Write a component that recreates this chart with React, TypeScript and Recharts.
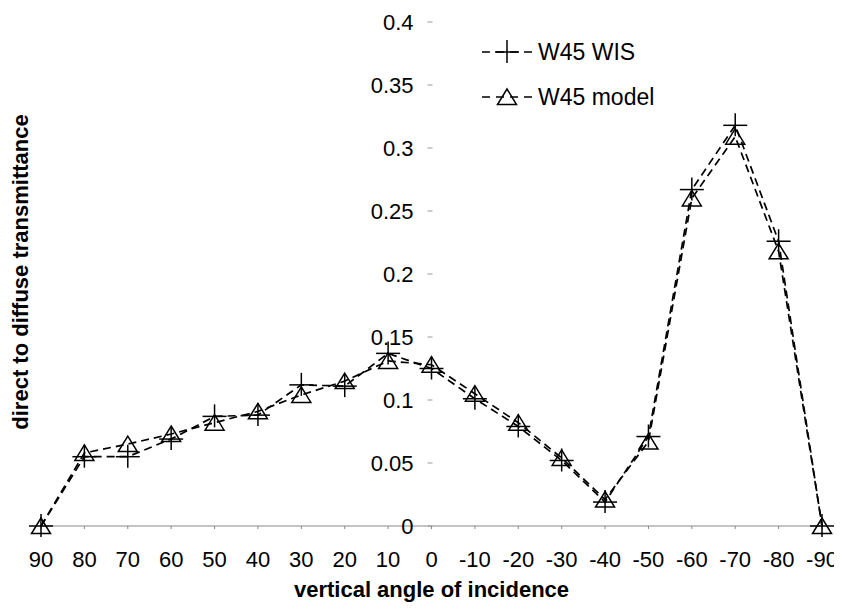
import { LineChart, Line, XAxis, YAxis, Legend } from 'recharts';

const angles = ['90', '80', '70', '60', '50', '40', '30', '20', '10', '0', '-10', '-20', '-30', '-40', '-50', '-60', '-70', '-80', '-90'];
const wisValues = [0, 0.055, 0.055, 0.069, 0.087, 0.088, 0.112, 0.111, 0.137, 0.125, 0.101, 0.079, 0.052, 0.019, 0.071, 0.267, 0.318, 0.226, 0];
const modelValues = [0, 0.058, 0.065, 0.073, 0.082, 0.091, 0.104, 0.115, 0.131, 0.128, 0.105, 0.082, 0.054, 0.021, 0.067, 0.26, 0.309, 0.218, 0];
const yTicks = [0, 0.05, 0.1, 0.15, 0.2, 0.25, 0.3, 0.35, 0.4];

const data = angles.map((angle, i) => ({ angle, wis: wisValues[i], model: modelValues[i] }));

const WIDTH = 834;
const HEIGHT = 595;
const MARGIN = { top: 14, right: 20, left: 32, bottom: 0 };
const Y_AXIS_W = 1;
const FONT = '"Liberation Sans", Arial, Helvetica, sans-serif';

// the value axis sits on the 0 degree column, not at the plot edge
const PLOT_W = WIDTH - MARGIN.left - Y_AXIS_W - MARGIN.right;
const AXIS_SHIFT = (PLOT_W / (angles.length - 1)) * angles.indexOf('0');

const PlusDot = ({ cx, cy }: any) => (
  <g stroke="#000" strokeWidth={1.5}>
    <line x1={cx - 12} x2={cx + 12} y1={cy} y2={cy} />
    <line x1={cx} x2={cx} y1={cy - 12} y2={cy + 11} />
  </g>
);

const TriangleDot = ({ cx, cy }: any) => (
  <polygon
    points={`${cx},${cy - 8} ${cx - 9.5},${cy + 7.5} ${cx + 9.5},${cy + 7.5}`}
    fill="none"
    stroke="#000"
    strokeWidth={1.5}
  />
);

const YTick = ({ x, y, payload }: any) => {
  const ax = x + Y_AXIS_W + AXIS_SHIFT;
  return (
    <g>
      <line x1={ax - 5} x2={ax} y1={y} y2={y} stroke="#999" />
      <text x={ax - 19} y={y} textAnchor="end" dominantBaseline="central" fontSize={22} fill="#000" fontFamily={FONT}>
        {payload.value}
      </text>
    </g>
  );
};

const YTitle = ({ viewBox }: any) => {
  const cx = 12;
  const cy = viewBox.y + viewBox.height / 2 - 2;
  return (
    <text
      x={cx}
      y={cy}
      transform={`rotate(-90 ${cx} ${cy})`}
      textAnchor="middle"
      dominantBaseline="central"
      fontSize={22}
      fontWeight="bold"
      fontFamily={FONT}
      fill="#000"
    >
      direct to diffuse transmittance
    </text>
  );
};

const LegendBox = ({ payload }: any) => (
  <svg width={240} height={80} style={{ display: 'block' }}>
    {(payload || []).map((entry: any, i: number) => {
      const y = 14 + i * 45;
      return (
        <g key={entry.value}>
          <line x1={0} x2={52} y1={y} y2={y} stroke="#000" strokeWidth={1.5} strokeDasharray="8 6" />
          {entry.dataKey === 'wis' ? <PlusDot cx={25} cy={y} /> : <TriangleDot cx={25} cy={y} />}
          <text x={56} y={y} dominantBaseline="central" fontSize={23} fontFamily={FONT} fill="#000">
            {entry.value}
          </text>
        </g>
      );
    })}
  </svg>
);

export default function App() {
  return (
    <LineChart width={WIDTH} height={HEIGHT} data={data} margin={MARGIN} style={{ fontFamily: FONT }}>
      <XAxis
        dataKey="angle"
        height={77}
        interval={0}
        tickSize={3}
        tickMargin={22}
        axisLine={{ stroke: '#888' }}
        tickLine={{ stroke: '#888' }}
        tick={{ fill: '#000', fontSize: 22, fontFamily: FONT }}
        label={{
          value: 'vertical angle of incidence',
          position: 'insideBottom',
          offset: 6,
          fontSize: 22,
          fontWeight: 'bold',
          fill: '#000',
          fontFamily: FONT,
        }}
      />
      <YAxis
        domain={[0, 0.4]}
        ticks={yTicks}
        interval={0}
        width={Y_AXIS_W}
        tickSize={0}
        tickMargin={0}
        axisLine={false}
        tickLine={false}
        tick={<YTick />}
        label={{ content: <YTitle /> }}
      />
      <Legend
        layout="vertical"
        align="center"
        verticalAlign="middle"
        wrapperStyle={{ left: 474, top: 30, width: 240 }}
        content={<LegendBox />}
      />
      <Line
        dataKey="wis"
        name="W45 WIS"
        stroke="#000"
        strokeWidth={1.7}
        strokeDasharray="8 5"
        dot={<PlusDot />}
        activeDot={false}
        isAnimationActive={false}
      />
      <Line
        dataKey="model"
        name="W45 model"
        stroke="#000"
        strokeWidth={1.7}
        strokeDasharray="8 5"
        dot={<TriangleDot />}
        activeDot={false}
        isAnimationActive={false}
      />
    </LineChart>
  );
}
